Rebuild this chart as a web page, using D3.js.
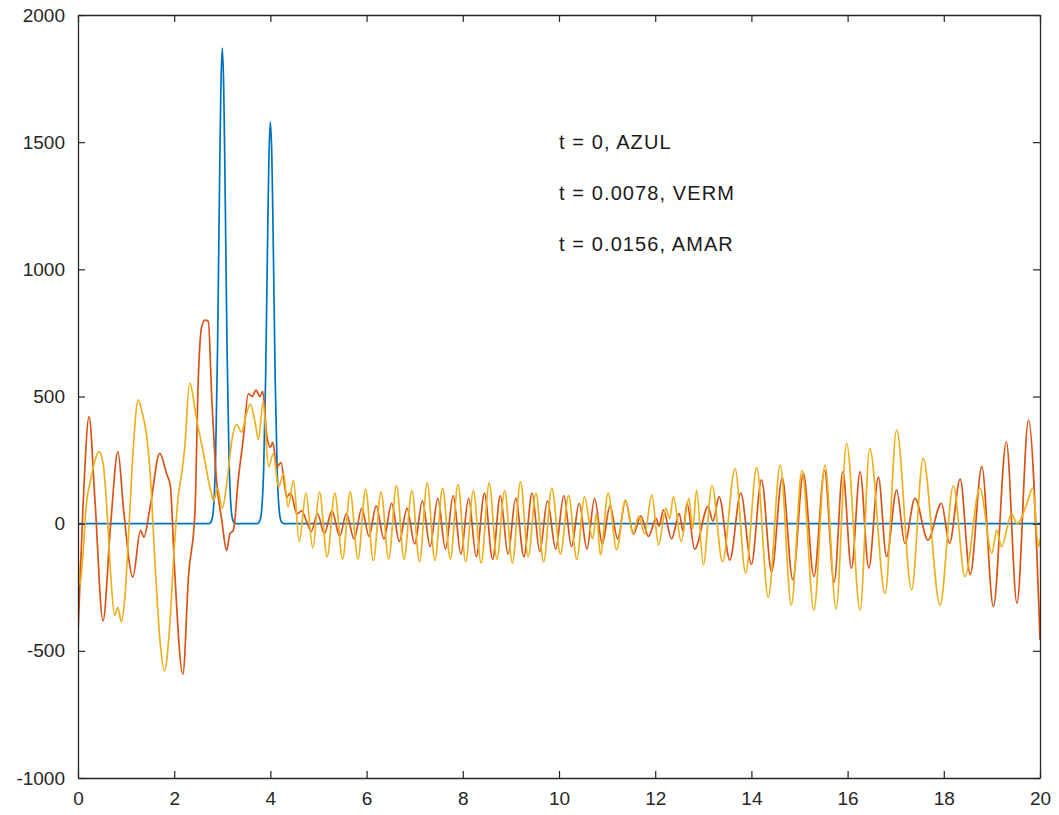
<!DOCTYPE html>
<html>
<head>
<meta charset="utf-8">
<script src="https://cdnjs.cloudflare.com/ajax/libs/d3/7.8.5/d3.min.js"></script>
<style>
  body { margin: 0; background: #fff; }
  svg text { font-family: "Liberation Sans", Arial, sans-serif; }
</style>
</head>
<body>
<svg id="chart"></svg>
<script>
// x ticks / y ticks
var xTicks = [0, 2, 4, 6, 8, 10, 12, 14, 16, 18, 20];
var yTicks = [-1000, -500, 0, 500, 1000, 1500, 2000];

// labels inside the plot
var notes = ["t = 0, AZUL", "t = 0.0078, VERM", "t = 0.0156, AMAR"];
var noteX = [10, 10, 10];
var noteY = [1500, 1300, 1100];

// t = 0 (blue)
var blueX = [0, 2.70, 2.74, 2.78, 2.82, 2.86, 2.90, 2.93, 2.95, 2.97, 3.00, 3.03, 3.05, 3.07, 3.10, 3.14, 3.18, 3.22, 3.26, 3.30,
             3.70, 3.74, 3.78, 3.82, 3.86, 3.90, 3.93, 3.95, 3.97, 4.00, 4.03, 4.05, 4.07, 4.10, 4.14, 4.18, 4.22, 4.26, 4.30, 20];
var blueY = [0, 0, 2, 13, 68, 253, 674, 1134, 1449, 1706, 1870, 1706, 1449, 1134, 674, 253, 68, 13, 2, 0,
             0, 2, 11, 58, 214, 569, 959, 1225, 1441, 1580, 1441, 1225, 959, 569, 214, 58, 11, 2, 0, 0];

// t = 0.0078 (red)
var redX = [0, 0.10, 0.23, 0.35, 0.52, 0.68, 0.83, 0.95, 1.14, 1.30, 1.37, 1.50, 1.70, 1.84, 1.92, 2.00, 2.18, 2.30, 2.43, 2.50,
            2.57, 2.64, 2.71, 2.78, 2.88, 2.99, 3.09, 3.16, 3.23, 3.33, 3.44, 3.54, 3.62, 3.70, 3.78, 3.84, 3.92, 4.00, 4.05, 4.13,
            4.22, 4.34, 4.42, 4.55, 4.65, 4.75, 4.85, 4.98, 5.12, 5.28, 5.44, 5.58, 5.74, 5.90, 6.05, 6.20, 6.36, 6.52, 6.68, 6.84,
            7.00, 7.16, 7.32, 7.48, 7.64, 7.80, 7.96, 8.12, 8.28, 8.45, 8.62, 8.78, 8.94, 9.10, 9.27, 9.44, 9.60, 9.76, 9.93, 10.10,
            10.26, 10.42, 10.58, 10.74, 10.90, 11.06, 11.22, 11.38, 11.55, 11.70, 11.86, 12.02, 12.08, 12.17, 12.34, 12.50, 12.58, 12.66, 12.82, 13.10,
            13.20, 13.33, 13.55, 13.78, 14.00, 14.21, 14.42, 14.64, 14.86, 15.08, 15.30, 15.52, 15.72, 15.90, 16.08, 16.26, 16.44, 16.64, 16.81, 17.02,
            17.19, 17.40, 17.67, 17.95, 18.12, 18.34, 18.55, 18.79, 19.03, 19.30, 19.52, 19.76, 20.00];
var redY = [-430, 50, 421, 100, -382, 0, 283, 50, -210, -26, -53, 66, 276, 197, 150, -150, -592, -200, 39, 563,
            773, 800, 795, 498, 170, 13, -105, -39, -26, 170, 340, 511, 500, 525, 500, 520, 354, 300, 320, 223,
            240, 105, 120, 39, 50, 10, -30, 40, -40, 50, -50, 40, -60, 60, -50, 70, -60, 80, -70, 60,
            -80, 90, -90, 100, -100, 110, -120, 100, -130, 120, -140, 110, -120, 100, -130, 120, -110, 90, -100, 110,
            -90, 80, -100, 100, -80, 70, -60, 90, -40, 30, -50, 20, -10, 54, -60, 40, -30, 80, -100, 67,
            10, 106, -143, 120, -160, 172, -190, 180, -220, 198, -208, 210, -230, 204, -175, 204, -175, 183, -130, 132,
            -77, 100, -64, 80, -77, 175, -200, 224, -326, 322, -313, 407, -457];

// t = 0.0156 (yellow)
var yelX = [0, 0.04, 0.10, 0.17, 0.26, 0.34, 0.44, 0.52, 0.60, 0.68, 0.76, 0.83, 0.90, 0.97, 1.05, 1.15, 1.25, 1.33, 1.42, 1.50,
            1.60, 1.70, 1.80, 1.90, 2.00, 2.08, 2.15, 2.22, 2.32, 2.47, 2.61, 2.74, 2.82, 2.90, 3.00, 3.10, 3.20, 3.30, 3.40, 3.50,
            3.58, 3.68, 3.75, 3.85, 3.96, 4.06, 4.17, 4.27, 4.37, 4.48, 4.60, 4.74, 4.88, 5.02, 5.18, 5.34, 5.50, 5.66, 5.82, 5.98,
            6.14, 6.30, 6.46, 6.62, 6.78, 6.94, 7.10, 7.26, 7.42, 7.58, 7.74, 7.90, 8.06, 8.22, 8.38, 8.55, 8.71, 8.87, 9.03, 9.20,
            9.36, 9.52, 9.68, 9.85, 10.03, 10.20, 10.37, 10.53, 10.70, 10.78, 10.86, 11.02, 11.20, 11.38, 11.54, 11.66, 11.78, 11.93, 12.07, 12.22,
            12.30, 12.38, 12.54, 12.70, 12.78, 12.86, 13.00, 13.18, 13.40, 13.66, 13.88, 14.11, 14.35, 14.60, 14.83, 15.05, 15.30, 15.53, 15.76, 15.98,
            16.26, 16.46, 16.78, 17.02, 17.33, 17.57, 17.92, 18.20, 18.44, 18.75, 19.00, 19.10, 19.20, 19.41, 19.52, 19.73, 19.85, 19.97, 20.00];
var yelY = [-120, -240, -130, 70, 170, 240, 283, 240, 60, -200, -360, -330, -385, -300, -50, 300, 487, 440, 355, 200,
            -150, -450, -579, -420, -100, 100, 190, 300, 553, 406, 275, 144, 90, 140, 60, 170, 330, 390, 360, 430,
            470, 400, 330, 480, 223, 275, 144, 196, 66, 170, -70, 120, -95, 125, -130, 120, -140, 125, -140, 135,
            -145, 125, -140, 150, -140, 130, -150, 160, -145, 140, -140, 155, -150, 130, -155, 160, -140, 130, -155, 165,
            -130, 120, -150, 140, -120, 110, -140, 106, -60, 40, -123, 120, -103, 93, -40, 30, -40, 113, -84, 60,
            20, 106, -70, 100, -20, 132, -162, 150, -150, 217, -195, 220, -290, 230, -320, 210, -340, 230, -335, 316,
            -340, 296, -274, 368, -261, 257, -320, 150, -208, 140, -117, -25, -90, 40, 0, 80, 140, -90, -60];

var W = 1059, H = 815;
var margin = {left: 78, right: 19, top: 15, bottom: 37};
var iw = W - margin.left - margin.right;
var ih = H - margin.top - margin.bottom;

var svg = d3.select("#chart").attr("width", W).attr("height", H);
var g = svg.append("g").attr("transform", "translate(" + margin.left + "," + margin.top + ")");

var x = d3.scaleLinear().domain([0, 20]).range([0, iw]);
var y = d3.scaleLinear().domain([-1000, 2000]).range([ih, 0]);

function zip(xs, ys) {
    return xs.map(function(d, i) { return [d, ys[i]]; });
}

var line = d3.line()
    .x(function(d) { return x(d[0]); })
    .y(function(d) { return y(d[1]); })
    .curve(d3.curveMonotoneX);

var series = [
    {pts: zip(blueX, blueY), color: "#0072bd"},
    {pts: zip(redX, redY), color: "#d95319"},
    {pts: zip(yelX, yelY), color: "#edb120"}
];

g.append("defs").append("clipPath").attr("id", "clip")
  .append("rect").attr("width", iw).attr("height", ih);

g.append("g").attr("clip-path", "url(#clip)")
  .selectAll("path")
  .data(series)
  .enter()
  .append("path")
  .attr("d", function(d) { return line(d.pts); })
  .attr("fill", "none")
  .attr("stroke", function(d) { return d.color; })
  .attr("stroke-width", 1.7)
  .attr("stroke-linejoin", "round");

// plain numbers, ascii minus
var fmt = function(d) { return String(d); };

// axes, ticks pointing inward
var tk = 7;
g.append("g").attr("transform", "translate(0," + ih + ")")
  .call(d3.axisBottom(x).tickValues(xTicks).tickFormat(fmt).tickSizeInner(-tk).tickSizeOuter(0).tickPadding(14));
g.append("g")
  .call(d3.axisTop(x).tickValues(xTicks).tickSizeInner(-tk).tickSizeOuter(0).tickFormat(""));
g.append("g")
  .call(d3.axisLeft(y).tickValues(yTicks).tickFormat(fmt).tickSizeInner(-tk).tickSizeOuter(0).tickPadding(13));
g.append("g").attr("transform", "translate(" + iw + ",0)")
  .call(d3.axisRight(y).tickValues(yTicks).tickSizeInner(-tk).tickSizeOuter(0).tickFormat(""));

g.selectAll(".domain").attr("stroke", "#262626").attr("stroke-width", 1.3);
g.selectAll(".tick line").attr("stroke", "#262626").attr("stroke-width", 1.2);
g.selectAll(".tick text")
  .attr("font-family", "'Liberation Sans', Arial, sans-serif")
  .attr("font-size", "19px")
  .attr("fill", "#262626");

g.selectAll(".note")
  .data(notes)
  .enter()
  .append("text")
  .attr("class", "note")
  .attr("x", function(d, i) { return x(noteX[i]); })
  .attr("y", function(d, i) { return y(noteY[i]); })
  .attr("dy", "0.35em")
  .attr("font-size", "20px")
  .attr("letter-spacing", "1.1px")
  .attr("fill", "#1a1a1a")
  .text(function(d) { return d; });
</script>
</body>
</html>
